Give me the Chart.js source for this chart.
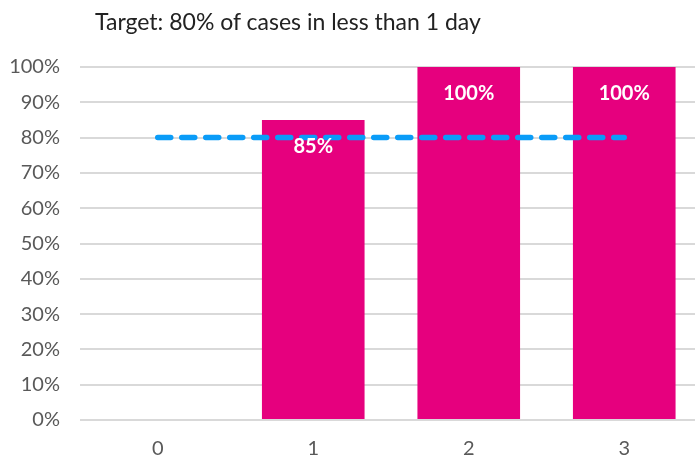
<!DOCTYPE html>
<html>
<head>
<meta charset="utf-8">
<script src="https://cdn.jsdelivr.net/npm/chart.js@4"></script>
<style>
  body { margin: 0; background: #fff; }
  #wrap { position: relative; width: 695px; height: 460px; overflow: hidden; }
  #ttl { position: absolute; left: 95px; top: 7px; font-family: Lato, sans-serif; font-size: 23px; color: #222; white-space: nowrap; }
  #box { position: absolute; left: 0; top: 0; width: 702px; height: 460px; }
</style>
</head>
<body>
<div id="wrap">
  <div id="box"><canvas id="mychart"></canvas></div>
  <div id="ttl">Target: 80% of cases in less than 1 day</div>
</div>
<script>
var cats = ['0', '1', '2', '3'];
var pct = [0, 85, 100, 100];
var target = [80, 80, 80, 80];

// labels inside the top of each bar
var barLabels = {
  id: 'barLabels',
  afterDatasetsDraw: function(chart) {
    var ctx = chart.ctx;
    var meta = chart.getDatasetMeta(1);
    ctx.save();
    ctx.fillStyle = '#fff';
    ctx.font = 'bold 20px Lato, sans-serif';
    ctx.textAlign = 'center';
    ctx.textBaseline = 'middle';
    meta.data.forEach(function(bar, i) {
      if (!pct[i]) return;
      ctx.fillText(pct[i] + '%', bar.x, bar.y + 27);
    });
    ctx.restore();
  }
};

var ctx = document.getElementById('mychart').getContext('2d');
var chart = new Chart(ctx, {
  data: {
    labels: cats,
    datasets: [{
      type: 'line',
      label: 'Target',
      data: target,
      borderColor: '#0a9cf8',
      borderWidth: 5.5,
      borderDash: [13, 11],
      borderCapStyle: 'round',
      pointRadius: 0,
      fill: false,
      order: 0
    }, {
      type: 'bar',
      label: 'Cases',
      data: pct,
      backgroundColor: '#e6007e',
      categoryPercentage: 1,
      barPercentage: 0.66,
      order: 1
    }]
  },
  options: {
    responsive: true,
    maintainAspectRatio: false,
    animation: false,
    layout: { padding: { top: 67, right: 0, left: 0, bottom: 0 } },
    plugins: { legend: { display: false }, tooltip: { enabled: false } },
    scales: {
      x: {
        afterFit: function(s) { s.height = 40; },
        grid: { display: false },
        border: { display: false },
        ticks: { color: '#595959', font: { family: 'Lato', size: 20 }, padding: 9 }
      },
      y: {
        min: 0, max: 100,
        afterFit: function(s) { s.width = 80; },
        grid: { color: '#d9d9d9', lineWidth: 2, drawTicks: false },
        border: { display: false },
        ticks: {
          stepSize: 10, padding: 20, color: '#595959',
          font: { family: 'Lato', size: 20 },
          callback: function(v) { return v + '%'; }
        }
      }
    }
  },
  plugins: [barLabels]
});
</script>
</body>
</html>
